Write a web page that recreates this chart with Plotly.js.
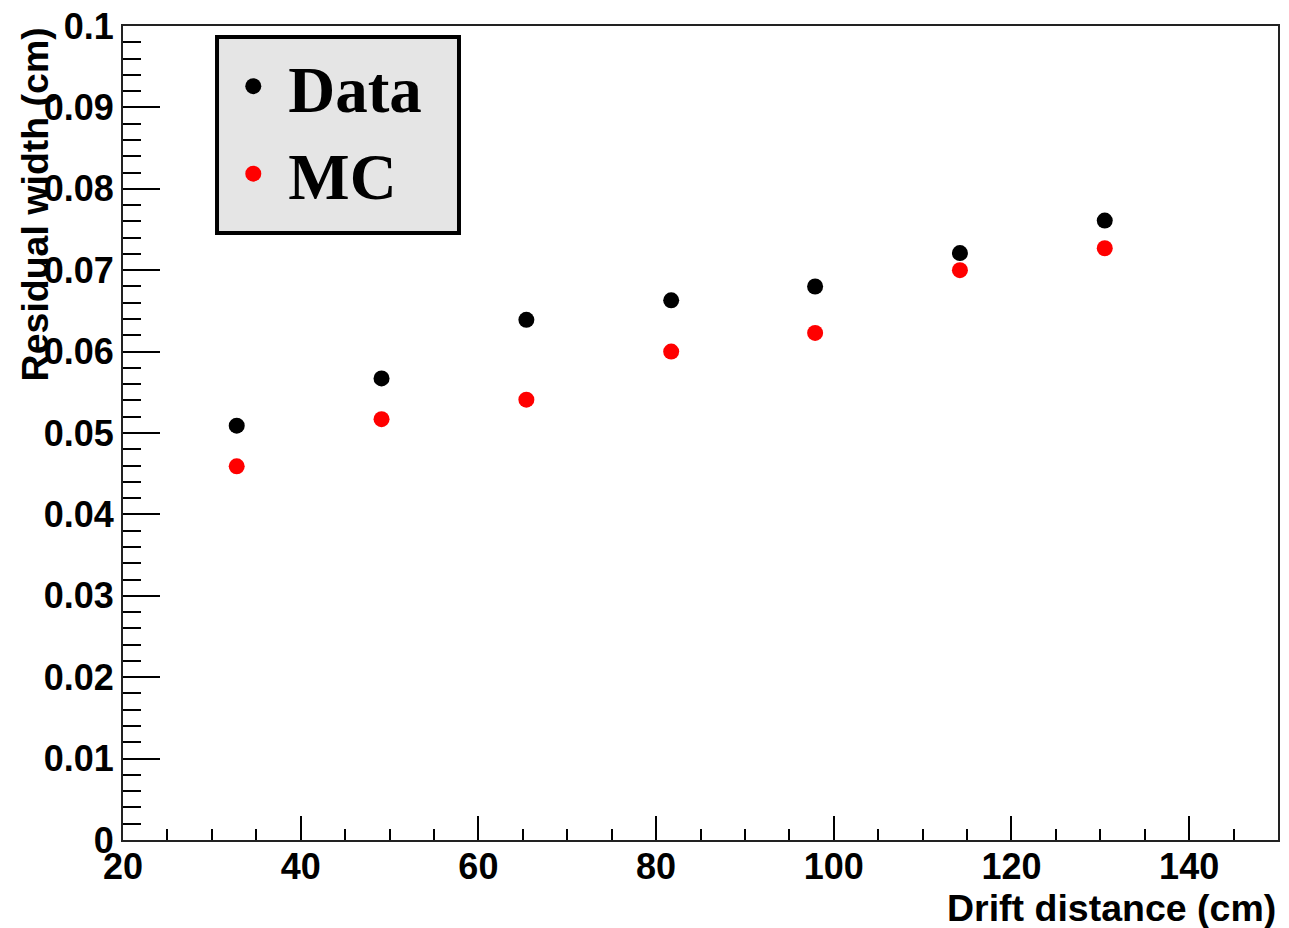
<!DOCTYPE html>
<html>
<head>
<meta charset="utf-8">
<script src="https://cdn.plot.ly/plotly-3.0.1.min.js"></script>
<style>html,body{margin:0;padding:0;background:#fff;} #chart{width:1289px;height:928px;}</style>
</head>
<body>
<div id="chart"></div>
<script>
// Data
const driftDistance = [32.8, 49.1, 65.4, 81.7, 97.9, 114.2, 130.5];
const dataWidth = [0.0509, 0.0567, 0.0639, 0.0663, 0.0680, 0.0721, 0.0761];
const mcWidth = [0.0459, 0.0517, 0.0541, 0.0600, 0.0623, 0.0700, 0.0727];
const seriesNames = ["Data", "MC"];
const xTitle = "Drift distance (cm)";
const yTitle = "Residual width (cm)";

const tickFont = {family: "Liberation Sans, Arial, sans-serif", size: 36, color: "#000", weight: "bold"};
const titleFont = {family: "Liberation Sans, Arial, sans-serif", size: 37.5, color: "#000", weight: "bold"};

const traces = [
  {x: driftDistance, y: dataWidth, name: seriesNames[0], type: "scatter", mode: "markers",
   marker: {color: "#000000", size: 16}},
  {x: driftDistance, y: mcWidth, name: seriesNames[1], type: "scatter", mode: "markers",
   marker: {color: "#ff0000", size: 16}}
];

const layout = {
  width: 1289, height: 928,
  margin: {l: 123, r: 11, t: 26, b: 88},
  paper_bgcolor: "#fff", plot_bgcolor: "#fff",
  showlegend: true,
  legend: {
    x: 0.0825, y: 0.986, xanchor: "left", yanchor: "top",
    bgcolor: "rgba(0,0,0,0)", borderwidth: 0,
    font: {family: "Liberation Serif, Times New Roman, serif", size: 65, color: "#000", weight: "bold"},
    itemwidth: 60, itemsizing: "trace"
  },
  shapes: [
    {type: "rect", xref: "paper", yref: "paper", x0: 0.0814, x1: 0.2909, y0: 0.7457, y1: 0.9865,
     fillcolor: "#e5e5e5", line: {color: "#000", width: 4}, layer: "below"}
  ],
  xaxis: {
    range: [20, 150], dtick: 20, tick0: 20,
    ticks: "inside", ticklen: 24, tickwidth: 2, tickcolor: "#000",
    minor: {dtick: 5, ticks: "inside", ticklen: 11, tickwidth: 2, tickcolor: "#000"},
    showgrid: false, zeroline: false,
    showline: true, linecolor: "#222", linewidth: 2, mirror: true,
    tickfont: tickFont, ticklabelstandoff: -6
  },
  yaxis: {
    range: [0, 0.1], dtick: 0.01, tick0: 0,
    ticks: "inside", ticklen: 37, tickwidth: 2, tickcolor: "#000",
    minor: {dtick: 0.002, ticks: "inside", ticklen: 18, tickwidth: 2, tickcolor: "#000"},
    showgrid: false, zeroline: false,
    showline: true, linecolor: "#222", linewidth: 2, mirror: true,
    tickfont: tickFont
  },
  annotations: [
    {text: xTitle, xref: "paper", yref: "paper", x: 1, y: -0.083, xanchor: "right", yanchor: "middle",
     showarrow: false, font: titleFont},
    {text: yTitle, xref: "paper", yref: "paper", x: -0.076, y: 1.001, xanchor: "center", yanchor: "top",
     textangle: -90, showarrow: false, font: titleFont}
  ]
};

Plotly.newPlot("chart", traces, layout, {displayModeBar: false, staticPlot: true});
</script>
</body>
</html>
